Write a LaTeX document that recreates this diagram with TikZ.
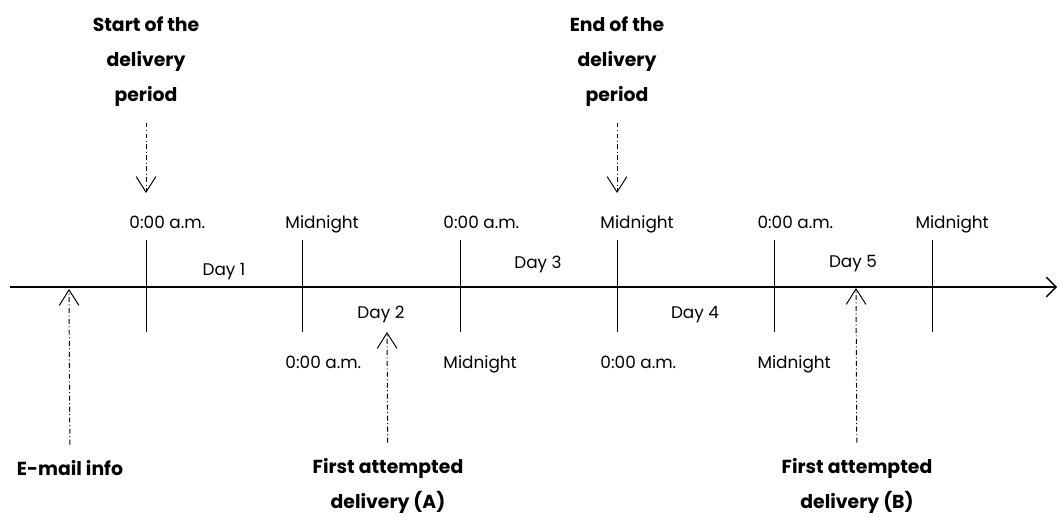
\documentclass[tikz,border=0pt]{standalone}
\usepackage{fontspec}
\setmainfont{Poppins}
\usetikzlibrary{arrows.meta}

\begin{document}
\begin{tikzpicture}[
    x=0.025cm, y=-0.025cm,
    line width=0.7pt,
    color=black,
    % Styles for the time line
    axis line/.style={line width=0.9pt, -{Straight Barb[length=7pt, width=14pt]}},
    tick line/.style={line width=0.7pt},
    time text/.style={anchor=base west, inner sep=0pt, font=\fontsize{12}{14}\selectfont},
    day text/.style={anchor=base, inner sep=0pt, font=\fontsize{12}{14}\selectfont},
    event text/.style={anchor=north, align=center, inner sep=0pt, font=\bfseries\fontsize{13.4}{25}\selectfont},
    pointer/.style={dash pattern=on 3.5pt off 1.8pt on 0.7pt off 1.8pt,
        -{Straight Barb[length=11pt, width=14pt]}, shorten <=11pt}
]
    \useasboundingbox (0,0) rectangle (1059,516);

    % ==========================
    % Axis and ticks
    % ==========================
    \coordinate (axisL) at (10,287);
    \coordinate (axisR) at (1057,287);
    \draw[axis line] (axisL) -- (axisR);

    \foreach \name/\x in {t1/146, t2/302, t3/460, t4/617, t5/774, t6/932} {
        \coordinate (\name top) at (\x,240);
        \coordinate (\name bot) at (\x,332);
        \draw[tick line] (\name top) -- (\name bot);
    }

    % ==========================
    % Times above and below
    % ==========================
    \foreach \name/\x/\txt in {t1/146/0:00 a.m., t2/302/Midnight, t3/460/0:00 a.m.,
                               t4/617/Midnight, t5/774/0:00 a.m., t6/932/Midnight}
        \node[time text] (\name up) at (\x-17,228) {\txt};

    \foreach \name/\x/\txt in {t2/302/0:00 a.m., t3/460/Midnight,
                               t4/617/0:00 a.m., t5/774/Midnight}
        \node[time text] (\name down) at (\x-17,368) {\txt};

    % ==========================
    % Days
    % ==========================
    \node[day text] (day1) at (224,275) {Day 1};
    \node[day text] (day2) at (381,318) {Day 2};
    \node[day text] (day3) at (538,268) {Day 3};
    \node[day text] (day4) at (695,318) {Day 4};
    \node[day text] (day5) at (853,267) {Day 5};

    % ==========================
    % Events and pointers
    % ==========================
    \node[event text] (start) at (146,16) {Start of the\\delivery\\period};
    \node[event text] (end) at (617,16) {End of the\\delivery\\period};
    \coordinate (startTip) at (146,193);
    \coordinate (endTip) at (617,193);
    \draw[pointer] (start) -- (startTip);
    \draw[pointer] (end) -- (endTip);

    \node[event text] (mail) at (70,460) {E-mail info};
    \node[event text] (firstA) at (388,458) {First attempted\\delivery (A)};
    \node[event text] (firstB) at (857,458) {First attempted\\delivery (B)};
    \coordinate (mailTip) at (69,289);
    \coordinate (firstATip) at (387,332);
    \coordinate (firstBTip) at (856,288);
    \draw[pointer] (mail) -- (mailTip);
    \draw[pointer] (firstA) -- (firstATip);
    \draw[pointer] (firstB) -- (firstBTip);

\end{tikzpicture}
\end{document}
